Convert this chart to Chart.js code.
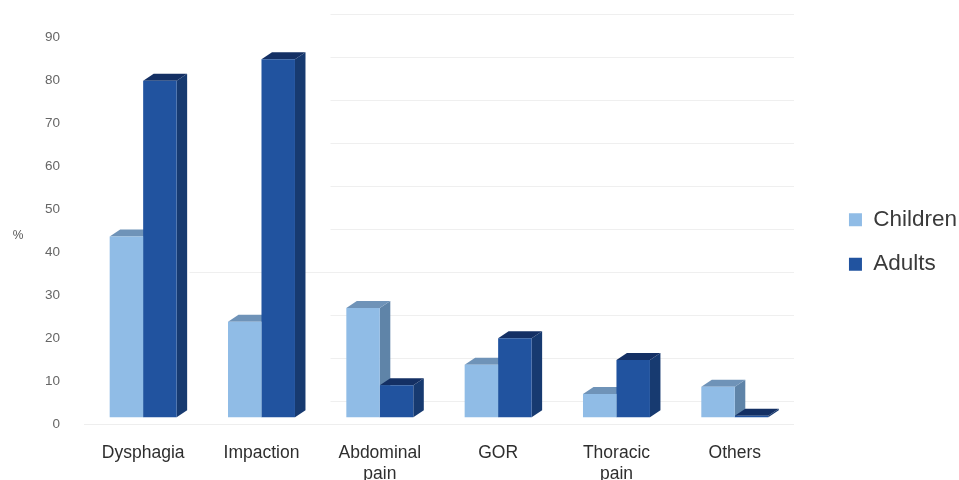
<!DOCTYPE html>
<html>
<head>
<meta charset="utf-8">
<style>
  html, body { margin: 0; padding: 0; background: #fff; }
  #wrap { width: 959px; height: 480px; }
</style>
<script src="https://cdn.jsdelivr.net/npm/chart.js@4"></script>
</head>
<body>
<div id="wrap"><canvas id="chart" width="959" height="480"></canvas></div>
<script>
const categories = [["Dysphagia"], ["Impaction"], ["Abdominal", "pain"], ["GOR"], ["Thoracic", "pain"], ["Others"]];
const children = [43.7, 23.8, 27, 13.8, 7, 8.7];
const adults = [80, 85, 9, 20, 14.9, 1.9];
const valueTicks = [0, 10, 20, 30, 40, 50, 60, 70, 80, 90];

// bars stand on the front of the floor, a little above the axis zero
const FLOOR_VALUE = 1.6;
// the back wall sits up and to the right of the front plane
const WALL_SHIFT = 5.35;
const DEPTH_X = 10.5;
const DEPTH_Y = 7;
const AXIS_MAX = 96.9;

const shade = {
  Children: { front: "#90bce6", top: "#6f93b8", side: "#5f84a8" },
  Adults: { front: "#21539f", top: "#143064", side: "#173a70" }
};

// side and top faces go down first, children then adults, so the fronts land over them
const depthFaces = {
  id: "depthFaces",
  beforeDatasetsDraw(chart) {
    const ctx = chart.ctx;
    chart.data.datasets.forEach((dataset, i) => {
      const colors = shade[dataset.label];
      chart.getDatasetMeta(i).data.forEach(bar => {
        const left = bar.x - bar.width / 2;
        const right = bar.x + bar.width / 2;
        ctx.fillStyle = colors.side;
        ctx.beginPath();
        ctx.moveTo(right, bar.y);
        ctx.lineTo(right + DEPTH_X, bar.y - DEPTH_Y);
        ctx.lineTo(right + DEPTH_X, bar.base - DEPTH_Y);
        ctx.lineTo(right, bar.base);
        ctx.closePath();
        ctx.fill();
        ctx.fillStyle = colors.top;
        ctx.beginPath();
        ctx.moveTo(left, bar.y);
        ctx.lineTo(left + DEPTH_X, bar.y - DEPTH_Y);
        ctx.lineTo(right + DEPTH_X, bar.y - DEPTH_Y);
        ctx.lineTo(right, bar.y);
        ctx.closePath();
        ctx.fill();
      });
    });
  }
};

// horizontal "%" beside the value axis
const axisUnit = {
  id: "axisUnit",
  afterDraw(chart) {
    const ctx = chart.ctx;
    ctx.save();
    ctx.fillStyle = "#555555";
    ctx.font = "12px 'Liberation Sans'";
    ctx.textAlign = "center";
    ctx.textBaseline = "middle";
    ctx.fillText("%", 18, chart.scales.y.getPixelForValue(43.8));
    ctx.restore();
  }
};

// legend hugs the right edge of the page
const legendNudge = {
  id: "legendNudge",
  afterLayout(chart) {
    chart.legend.left += 8;
    chart.legend.right += 8;
  }
};

// wall rules fade out behind the first two groups
function wallRuleColor(context) {
  const chart = context.chart;
  if (!chart.chartArea) return "#efefef";
  const start = context.tick.value === 30 ? 190 : 331;
  const g = chart.ctx.createLinearGradient(start - 1, 0, start, 0);
  g.addColorStop(0, "#ffffff");
  g.addColorStop(1, "#efefef");
  return g;
}

new Chart(document.getElementById("chart"), {
  type: "bar",
  data: {
    labels: categories,
    datasets: [
      { label: "Children", data: children, base: FLOOR_VALUE, backgroundColor: shade.Children.front },
      { label: "Adults", data: adults, base: FLOOR_VALUE, backgroundColor: shade.Adults.front }
    ]
  },
  options: {
    responsive: false,
    animation: false,
    layout: { padding: { top: 4 } },
    datasets: { bar: { categoryPercentage: 0.566, barPercentage: 1 } },
    plugins: {
      tooltip: { enabled: false },
      legend: {
        position: "right",
        align: "center",
        labels: {
          boxWidth: 13,
          boxHeight: 13,
          padding: 22,
          color: "#3a3a3a",
          font: { family: "Liberation Sans", size: 22.5 }
        }
      }
    },
    scales: {
      x: {
        grid: { display: false },
        border: { display: false },
        afterFit: axis => { axis.height = 56; },
        ticks: {
          color: "#2e2e2e",
          padding: 11,
          maxRotation: 0,
          autoSkip: false,
          font: { family: "Liberation Sans", size: 17.5, lineHeight: 1.2 }
        }
      },
      y: {
        min: 0,
        max: AXIS_MAX,
        afterFit: axis => { axis.width = 84; },
        grid: {
          color: ctx => ctx.tick.value === 0 ? "#eeeeee" : "transparent",
          tickColor: "transparent",
          tickLength: 24
        },
        border: { display: false },
        ticks: {
          includeBounds: false,
          padding: 0,
          color: "#666666",
          font: { family: "Liberation Sans", size: 13.5 }
        },
        afterBuildTicks: axis => { axis.ticks = valueTicks.map(value => ({ value })); }
      },
      // back wall rules, same spacing as the value axis but shifted upwards;
      // sitting on the right it also holds the gap before the legend
      wall: {
        position: "right",
        min: -WALL_SHIFT,
        max: AXIS_MAX - WALL_SHIFT,
        afterBuildTicks: axis => { axis.ticks = valueTicks.map(value => ({ value })); },
        afterFit: axis => { axis.width = 25; },
        grid: { color: wallRuleColor, drawTicks: false },
        border: { display: false },
        ticks: { display: false }
      }
    }
  },
  plugins: [depthFaces, axisUnit, legendNudge]
});
</script>
</body>
</html>
